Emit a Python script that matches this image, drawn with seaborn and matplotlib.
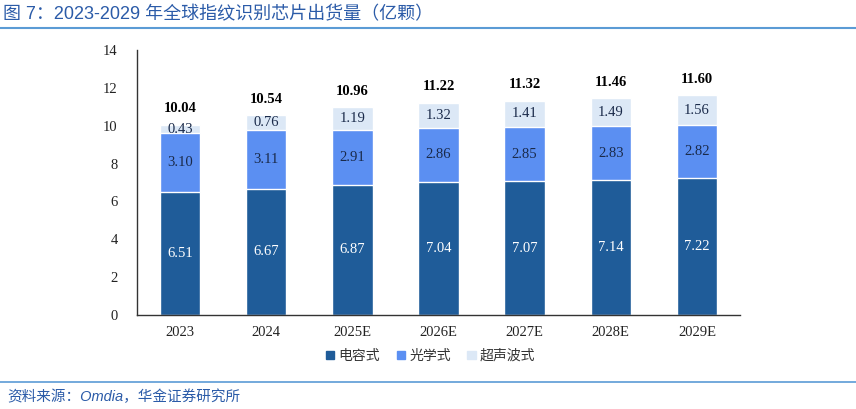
import numpy as np
import pandas as pd
import matplotlib
matplotlib.use("Agg")
import matplotlib.pyplot as plt
import seaborn as sns
from matplotlib.patches import Patch
from matplotlib.lines import Line2D

# data (亿颗)
years = ["2023", "2024", "2025E", "2026E", "2027E", "2028E", "2029E"]
capacitive = [6.51, 6.67, 6.87, 7.04, 7.07, 7.14, 7.22]
optical = [3.10, 3.11, 2.91, 2.86, 2.85, 2.83, 2.82]
ultrasonic = [0.43, 0.76, 1.19, 1.32, 1.41, 1.49, 1.56]
totals = [10.04, 10.54, 10.96, 11.22, 11.32, 11.46, 11.60]

c_dark = "#1F5C99"
c_mid = "#5B8FF2"
c_light = "#DCE8F6"
serif = "Liberation Serif"
cjk = ["Noto Sans CJK SC", "DejaVu Sans"]

sns.set_theme(style="white")
plt.rcParams["font.family"] = cjk

df = pd.DataFrame({"year": years, "cap": capacitive, "opt": optical, "ult": ultrasonic})
df["lvl2"] = df["cap"] + df["opt"]
df["lvl3"] = df["lvl2"] + df["ult"]

fig = plt.figure(figsize=(8.56, 4.09), dpi=100)
ax = fig.add_axes([0.160, 0.2298, 0.7045, 0.648])

# stacked by overlaying cumulative bars
sns.barplot(data=df, x="year", y="lvl3", color=c_light, saturation=1, width=0.47, ax=ax)
sns.barplot(data=df, x="year", y="lvl2", color=c_mid, saturation=1, width=0.47, ax=ax)
sns.barplot(data=df, x="year", y="cap", color=c_dark, saturation=1, width=0.47, ax=ax)

for i in range(len(years)):
    ax.text(i, capacitive[i] / 2, f"{capacitive[i]:.2f}", ha="center", va="center",
            color="white", fontsize=10.5, family=serif)
    ax.text(i, capacitive[i] + optical[i] / 2, f"{optical[i]:.2f}", ha="center", va="center",
            color="#1a2a4a", fontsize=10.5, family=serif)
    ax.text(i, df["lvl2"][i] + ultrasonic[i] / 2, f"{ultrasonic[i]:.2f}", ha="center", va="center",
            color="#1a2a4a", fontsize=10.5, family=serif)
    ax.text(i, totals[i] + 0.5, f"{totals[i]:.2f}", ha="center", va="bottom",
            color="black", fontsize=10.5, fontweight="bold", family=serif)

ax.set_xlim(-0.5, 6.5)
ax.set_ylim(0, 14)
ax.set_yticks(range(0, 15, 2))
ax.set_xlabel("")
ax.set_ylabel("")
for lab in ax.get_xticklabels() + ax.get_yticklabels():
    lab.set_family(serif)
    lab.set_fontsize(10.5)
    lab.set_color("#222222")
ax.tick_params(length=0, pad=8)
ax.tick_params(axis="y", pad=14)
sns.despine(ax=ax, top=True, right=True)
for s in ["left", "bottom"]:
    ax.spines[s].set_color("#333333")
    ax.spines[s].set_linewidth(1.0)

handles = [Patch(color=c_dark, label="电容式"), Patch(color=c_mid, label="光学式"),
           Patch(color=c_light, label="超声波式")]
fig.legend(handles=handles, loc="center", bbox_to_anchor=(0.503, 0.130), ncol=3, frameon=False,
           fontsize=10, handlelength=0.6, handleheight=0.6, handletextpad=0.3, columnspacing=1.2,
           labelcolor="#333333")

# title and footer
fig.text(0.004, 0.963, "图 7：2023-2029 年全球指纹识别芯片出货量（亿颗）", fontsize=13,
         color="#2B5BA8", va="center", ha="left",
         family=["Liberation Sans", "Noto Sans CJK SC"])
fig.add_artist(Line2D([0, 1], [0.931, 0.931], color="#5B9BD5", lw=1.5, transform=fig.transFigure))
fig.add_artist(Line2D([0, 1], [0.066, 0.066], color="#5B9BD5", lw=1.2, transform=fig.transFigure))
fig.text(0.008, 0.030, "资料来源：Omdia，华金证券研究所", fontsize=10.5, color="#2B5BA8",
         va="center", ha="left", style="italic",
         family=["Liberation Sans", "Noto Sans CJK SC"])

fig.savefig("out.png", dpi=100)
